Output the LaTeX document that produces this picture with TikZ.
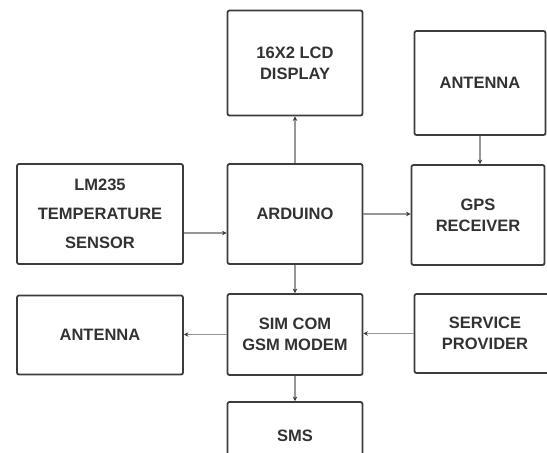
\documentclass[tikz,border=0pt]{standalone}
\usepackage{fontspec}
\setmainfont{Liberation Sans}
\usetikzlibrary{arrows.meta,positioning}
\definecolor{blkline}{RGB}{60,60,60}
\definecolor{blktext}{RGB}{50,50,50}
\definecolor{conline}{RGB}{150,150,150}

\begin{document}
\begin{tikzpicture}[x=1pt,y=-1pt,font=\fontsize{16.5}{21}\selectfont\bfseries,
    box/.style={draw=blkline,line width=1.8pt,rounded corners=2pt,align=center,text=blktext,inner sep=0pt},
    conn/.style={draw=conline,line width=1.1pt,-{Stealth[length=4.5pt,width=4.5pt,color=blkline]}}]
    \useasboundingbox (0,0) rectangle (547,453);
    \clip (0,0) rectangle (547,453);
    \node[box,minimum width=135pt,minimum height=105pt] (lcd) at (295,63) {16X2 LCD\\DISPLAY};
    \node[box,minimum width=131pt,minimum height=104pt] (antTop) at (480,83) {ANTENNA};
    \node[box,minimum width=166pt,minimum height=100pt] (lm) at (100,214) {LM235\\[8pt]TEMPERATURE\\[8pt]SENSOR};
    \node[box,minimum width=135pt,minimum height=100pt] (arduino) at (295,214) {ARDUINO};
    \node[box,minimum width=133pt,minimum height=100pt] (gps) at (478,215) {GPS\\RECEIVER};
    \node[box,minimum width=166pt,minimum height=79pt] (antLeft) at (100,335) {ANTENNA};
    \node[box,minimum width=135pt,minimum height=81pt] (sim) at (295,334.5) {SIM COM\\GSM MODEM};
    \node[box,minimum width=141pt,minimum height=79pt] (service) at (485,333.5) {SERVICE\\PROVIDER};
    \node[box,minimum width=135pt,minimum height=68pt] (sms) at (295,436) {SMS};
    \draw[conn] (arduino) -- (lcd);
    \draw[conn] (antTop.south) -- (antTop.south |- gps.north);
    \draw[conn] ([yshift=-19pt]lm.east) -- ([yshift=-19pt]lm.east -| arduino.west);
    \draw[conn] (arduino.east) -- (arduino.east -| gps.west);
    \draw[conn] (arduino) -- (sim);
    \draw[conn] (sim.west) -- (sim.west -| antLeft.east);
    \draw[conn] (service.west) -- (service.west -| sim.east);
    \draw[conn] (sim) -- (sms);
  \end{tikzpicture}
\end{document}
